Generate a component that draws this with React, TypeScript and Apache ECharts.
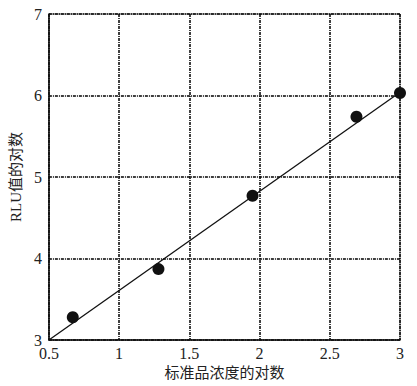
import React, { useEffect, useRef } from "react";
import * as echarts from "echarts";

const xName = "标准品浓度的对数";
const yName = "RLU值的对数";
const pointsX = [0.67, 1.28, 1.95, 2.69, 3.0];
const pointsY = [3.28, 3.87, 4.77, 5.74, 6.03];
const fitX = [0.5, 3.0];
const fitY = [3.0, 6.04];

const FONT = "Liberation Serif, Noto Sans CJK SC, serif";

export default function App() {
  const ref = useRef<HTMLDivElement>(null);
  useEffect(() => {
    if (!ref.current) return;
    const chart = echarts.init(ref.current, undefined, { renderer: "svg" });
    const gridLine = { show: true, lineStyle: { color: "#000", width: 1.5, type: [3, 1, 1, 1] as any } };
    chart.setOption({
      animation: false,
      backgroundColor: "#fff",
      grid: { left: 47, right: 17, top: 14, bottom: 46, show: true, borderColor: "#555", borderWidth: 1 },
      xAxis: {
        type: "value",
        min: 0.5,
        max: 3,
        interval: 0.5,
        name: xName,
        nameLocation: "middle",
        nameGap: 25,
        nameTextStyle: { fontFamily: FONT, fontSize: 15, color: "#222" },
        axisLine: { show: true, lineStyle: { color: "#111", width: 1.5 } },
        axisTick: { show: false },
        axisLabel: { fontFamily: FONT, fontSize: 16, color: "#222", margin: 5 },
        splitLine: gridLine,
      },
      yAxis: {
        type: "value",
        min: 3,
        max: 7,
        interval: 1,
        name: yName,
        nameLocation: "middle",
        nameGap: 20,
        nameTextStyle: { fontFamily: FONT, fontSize: 15, color: "#222" },
        axisLine: { show: true, lineStyle: { color: "#111", width: 1.5 } },
        axisTick: { show: false },
        axisLabel: { fontFamily: FONT, fontSize: 16, color: "#222", margin: 7 },
        splitLine: gridLine,
      },
      series: [
        {
          type: "line",
          data: fitX.map((x, i) => [x, fitY[i]]),
          showSymbol: false,
          symbol: "none",
          lineStyle: { color: "#111", width: 1.3 },
          z: 3,
        },
        {
          type: "scatter",
          data: pointsX.map((x, i) => [x, pointsY[i]]),
          symbolSize: 12,
          itemStyle: { color: "#111", opacity: 1 },
          z: 4,
        },
      ],
    });
    return () => chart.dispose();
  }, []);
  return (
    <div
      ref={ref}
      style={{ position: "fixed", left: 0, top: 0, width: 417, height: 386, background: "#fff" }}
    />
  );
}
